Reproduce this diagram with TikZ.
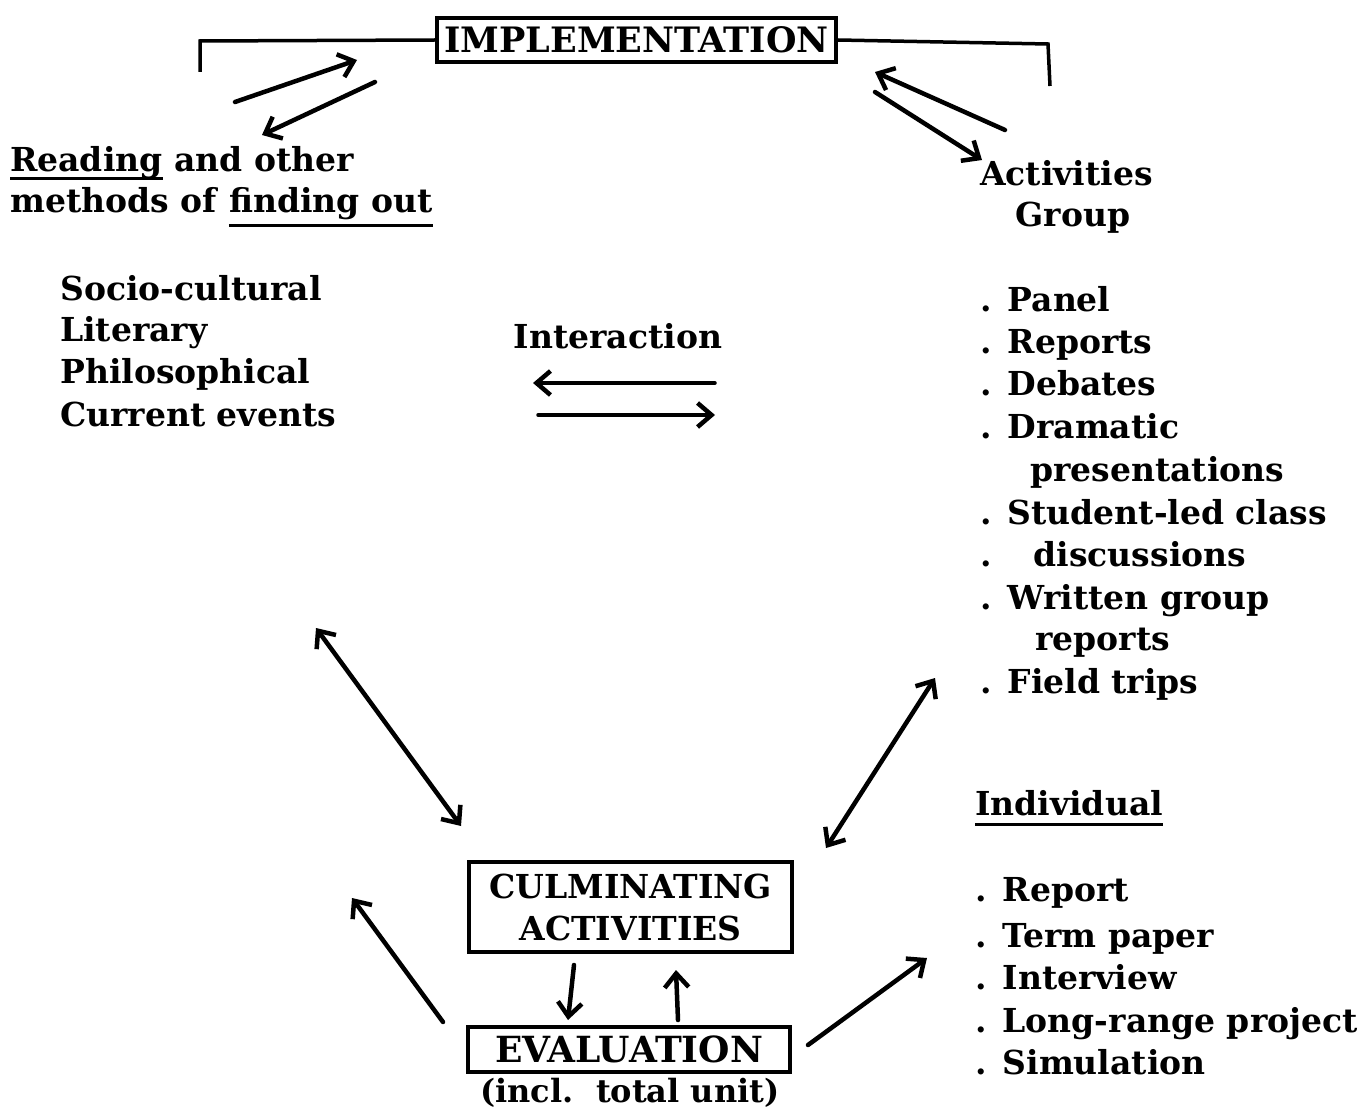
\documentclass[tikz,border=0pt]{standalone}
\usepackage{fontspec}
\setmainfont{DejaVu Serif}
\usetikzlibrary{arrows.meta}
\newcommand\tf{\fontsize{33}{42}\selectfont\bfseries}
\newcommand\dt{.\hspace{16pt}}
\begin{document}
\begin{tikzpicture}[x=1pt,y=-1pt,
  txt/.style={font=\tf, inner sep=0pt, anchor=base west},
  box/.style={draw, line width=3.5pt, inner sep=0pt},
  arr/.style={line width=4.5pt, line cap=round, -{Straight Barb[length=14pt,width=24pt,line width=4.5pt]}},
  darr/.style={line width=4.5pt, line cap=round, {Straight Barb[length=14pt,width=24pt,line width=4.5pt]}-{Straight Barb[length=14pt,width=24pt,line width=4.5pt]}},
  uline/.style={line width=3pt},
  bracket/.style={line width=3.5pt}]
\useasboundingbox (0,0) rectangle (1366,1110);

% IMPLEMENTATION
\node[box, line width=4pt, minimum width=399pt, minimum height=44pt, font=\fontsize{35}{40}\selectfont\bfseries] (impl) at (636.5,40) {IMPLEMENTATION};
\coordinate (bl) at (200,72);
\coordinate (blt) at (200,41);
\coordinate (brt) at (1048,44);
\coordinate (br) at (1050,86);
\draw[bracket] (bl) -- (blt) -- (impl.west);
\draw[bracket] (impl.east) -- (brt) -- (br);

% left top text
\node[txt] (rd) at (10,172) {Reading};
\node[txt] (rd2) at (rd.base east) {\ and other};
\node[txt] (mt) at (10,213) {methods of};
\node[txt, xshift=12pt] (fo) at (mt.base east) {finding out};
\draw[uline] ([yshift=-7pt]rd.base west) -- ([yshift=-7pt]rd.base east);
\draw[uline] ([yshift=-13pt]fo.base west) -- ([yshift=-13pt]fo.base east);

% arrows at top
\coordinate (a1s) at (235,102); \coordinate (a1e) at (357,60);
\coordinate (a2s) at (375,82);  \coordinate (a2e) at (262,135);
\coordinate (a3s) at (1005,130); \coordinate (a3e) at (875,72);
\coordinate (a4s) at (875,92);  \coordinate (a4e) at (982,160);
\draw[arr] (a1s) -- (a1e);
\draw[arr] (a2s) -- (a2e);
\draw[arr] (a3s) -- (a3e);
\draw[arr] (a4s) -- (a4e);

% Activities group
\node[txt] (act) at (980,186) {Activities};
\node[txt, anchor=base] (grp) at (1073,227) {Group};

% left list
\node[txt] (s1) at (60,300) {Socio-cultural};
\node[txt] (s2) at (60,341) {Literary};
\node[txt] (s3) at (60,383) {Philosophical};
\node[txt] (s4) at (60,426) {Current events};

% Interaction
\node[txt, anchor=base] (inter) at (618,348) {Interaction};
\coordinate (i1s) at (715,383); \coordinate (i1e) at (533,383);
\coordinate (i2s) at (538,415); \coordinate (i2e) at (715,415);
\draw[arr, line width=3.5pt] (i1s) -- (i1e);
\draw[arr, line width=3.5pt] (i2s) -- (i2e);

% right list
\node[txt] (g1) at (980,311) {\dt Panel};
\node[txt] (g2) at (980,353) {\dt Reports};
\node[txt] (g3) at (980,395) {\dt Debates};
\node[txt] (g4) at (980,438) {\dt Dramatic};
\node[txt] (g5) at (1030,481) {presentations};
\node[txt] (g6) at (980,524) {\dt Student-led class};
\node[txt] (g7) at (980,566) {.\hspace{42pt}discussions};
\node[txt] (g8) at (980,609) {\dt Written group};
\node[txt] (g9) at (1035,650) {reports};
\node[txt] (g10) at (980,693) {\dt Field trips};

% Individual
\node[txt] (ind) at (975,815) {Individual};
\draw[uline] ([yshift=-9pt]ind.base west) -- ([yshift=-9pt]ind.base east);
\node[txt] (n1) at (975,901) {\dt Report};
\node[txt] (n2) at (975,947) {\dt Term paper};
\node[txt] (n3) at (975,989) {\dt Interview};
\node[txt] (n4) at (975,1032) {\dt Long-range project};
\node[txt] (n5) at (975,1074) {\dt Simulation};

% diagonal double arrows
\coordinate (d1s) at (316,628); \coordinate (d1e) at (461,826);
\coordinate (d2s) at (935,678); \coordinate (d2e) at (826,848);
\draw[darr] (d1s) -- (d1e);
\draw[darr] (d2s) -- (d2e);

% Culminating activities
\node[box, minimum width=323pt, minimum height=90pt, align=center,
      font=\fontsize{33}{42}\selectfont\bfseries] (cul) at (630.5,907) {CULMINATING\\ACTIVITIES};

% Evaluation
\node[box, minimum width=322pt, minimum height=45pt,
      font=\fontsize{36}{40}\selectfont\bfseries] (eval) at (629,1049.5) {EVALUATION};
\node[txt, anchor=base, font=\fontsize{32}{40}\selectfont\bfseries] (incl) at (630,1102) {(incl.\ \ total unit)};

\coordinate (c1s) at (574,965); \coordinate (c1e) at (568,1020);
\coordinate (c2s) at (678,1020); \coordinate (c2e) at (676,970);
\draw[arr] (c1s) -- (c1e);
\draw[arr] (c2s) -- (c2e);

\coordinate (e1s) at (443,1022); \coordinate (e1e) at (352,898);
\coordinate (e2s) at (808,1045); \coordinate (e2e) at (927,958);
\draw[arr] (e1s) -- (e1e);
\draw[arr] (e2s) -- (e2e);
\end{tikzpicture}
\end{document}
